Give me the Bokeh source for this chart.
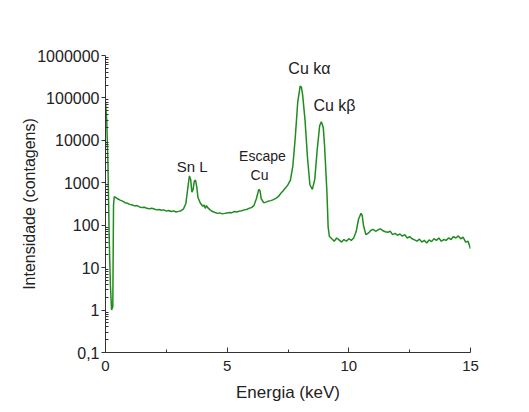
from bokeh.plotting import figure
from bokeh.models import Range1d, FixedTicker, ColumnDataSource
from bokeh.core.properties import value
from bokeh.embed import file_html
from bokeh.resources import INLINE

# Spectrum (energy in keV, counts)
energy = [0.00, 0.05, 0.10, 0.15, 0.20, 0.25, 0.30, 0.33, 0.36, 0.40,
          0.50, 0.60, 0.70, 0.80, 0.90, 1.00, 1.10, 1.20, 1.30, 1.40,
          1.50, 1.60, 1.70, 1.80, 1.90, 2.00, 2.10, 2.20, 2.30, 2.40,
          2.50, 2.60, 2.70, 2.80, 2.90, 3.00, 3.10, 3.20, 3.30, 3.40,
          3.45, 3.50, 3.55, 3.60, 3.65, 3.70, 3.75, 3.80, 3.90, 4.00,
          4.05, 4.10, 4.15, 4.20, 4.30, 4.40, 4.50, 4.60, 4.70, 4.80,
          4.90, 5.00, 5.10, 5.20, 5.30, 5.40, 5.50, 5.60, 5.70, 5.80,
          5.90, 6.00, 6.10, 6.20, 6.30, 6.35, 6.40, 6.50, 6.60, 6.70,
          6.80, 6.90, 7.00, 7.10, 7.20, 7.30, 7.40, 7.50, 7.60, 7.70,
          7.80, 7.90, 8.00, 8.05, 8.10, 8.20, 8.30, 8.40, 8.50, 8.60,
          8.70, 8.80, 8.87, 8.95, 9.00, 9.10, 9.15, 9.20, 9.30, 9.40,
          9.50, 9.60, 9.70, 9.80, 9.90, 10.00, 10.10, 10.20, 10.30, 10.40,
          10.50, 10.55, 10.60, 10.70, 10.80, 10.90, 11.00, 11.10, 11.20, 11.30,
          11.40, 11.50, 11.60, 11.70, 11.80, 11.90, 12.00, 12.10, 12.20, 12.30,
          12.40, 12.50, 12.60, 12.70, 12.80, 12.90, 13.00, 13.10, 13.20, 13.30,
          13.40, 13.50, 13.60, 13.70, 13.80, 13.90, 14.00, 14.10, 14.20, 14.30,
          14.40, 14.50, 14.60, 14.70, 14.80, 14.90, 15.00]
counts = [80000, 30000, 3000, 60, 4, 1.0, 1.2, 300, 470, 460,
          420, 390, 370, 340, 330, 310, 300, 285, 290, 270,
          260, 265, 250, 245, 250, 240, 230, 235, 225, 230,
          215, 222, 210, 218, 205, 212, 220, 240, 320, 900,
          1450, 1200, 600, 700, 1100, 1150, 800, 450, 330, 280,
          300, 250, 290, 260, 230, 210, 200, 190, 195, 185,
          190, 195, 200, 198, 210, 205, 215, 220, 230, 235,
          250, 260, 290, 420, 700, 650, 420, 340, 350, 370,
          380, 400, 430, 470, 560, 650, 760, 900, 1150, 2500,
          12000, 80000, 190000, 180000, 120000, 30000, 4000, 900, 700, 1200,
          6000, 22000, 27500, 20000, 8000, 600, 90, 55, 48, 42,
          50, 45, 40, 46, 42, 48, 44, 50, 70, 140,
          190, 170, 100, 60, 65, 75, 80, 72, 78, 82,
          74, 70, 68, 72, 60, 64, 58, 62, 55, 60,
          50, 54, 48, 45, 42, 47, 40, 44, 38, 45,
          41, 48, 44, 50, 42, 46, 44, 50, 46, 54,
          50, 56, 48, 52, 40, 42, 28]

y_ticks = [0.1, 1, 10, 100, 1000, 10000, 100000, 1000000]
y_tick_labels = ["0,1", "1", "10", "100", "1000", "10000", "100000", "1000000"]
x_ticks = [0, 5, 10, 15]
x_minor = [2.5, 7.5, 12.5]

ann_text = ["Cu k\u03b1", "Cu k\u03b2", "Sn L", "Escape", "Cu"]
ann_x = [8.38, 9.41, 3.56, 6.45, 6.33]
ann_y = [497000, 67500, 2380, 4310, 1550]
ann_size = ["16px", "16px", "15px", "14px", "14px"]

FONT = "Liberation Sans"

p = figure(width=521, height=404, y_axis_type="log",
           x_range=Range1d(0, 15), y_range=Range1d(0.1, 1000000),
           output_backend="svg", toolbar_location=None,
           min_border_left=105, min_border_right=51,
           min_border_top=55, min_border_bottom=50)
p.outline_line_color = None
p.xgrid.visible = False
p.ygrid.visible = False
p.background_fill_color = "white"
p.border_fill_color = "white"

src = ColumnDataSource(dict(x=energy, y=counts))
p.line("x", "y", source=src, line_color="#1f8c1f", line_width=1.5)

ann = ColumnDataSource(dict(x=ann_x, y=ann_y, t=ann_text, s=ann_size))
p.text("x", "y", text="t", source=ann, text_font=value(FONT),
       text_font_size="s", text_align="center", text_baseline="middle",
       text_color="#222222")

# y axis
minor_y = []
for d in y_ticks[:-1]:
    for k in range(2, 10):
        minor_y.append(d * k)
p.yaxis.ticker = FixedTicker(ticks=y_ticks, minor_ticks=minor_y)
p.yaxis.major_label_overrides = {t: l for t, l in zip(y_ticks, y_tick_labels)}
p.yaxis.major_tick_out = 4
p.yaxis.major_tick_in = 0
p.yaxis.minor_tick_in = 3
p.yaxis.minor_tick_out = 0
p.yaxis.axis_label = "Intensidade (contagens)"
p.yaxis.major_label_standoff = 2
p.yaxis.axis_label_standoff = -4

# x axis
p.xaxis.ticker = FixedTicker(ticks=x_ticks, minor_ticks=x_minor)
p.xaxis.major_tick_in = 5
p.xaxis.major_tick_out = 0
p.xaxis.minor_tick_in = 3
p.xaxis.minor_tick_out = 0
p.xaxis.axis_label = "Energia (keV)"
p.xaxis.major_label_standoff = 8
p.xaxis.axis_label_standoff = 9

for ax in (p.xaxis[0], p.yaxis[0]):
    ax.axis_line_color = "#333333"
    ax.major_tick_line_color = "#333333"
    ax.minor_tick_line_color = "#333333"
    ax.major_label_text_font = FONT
    ax.major_label_text_color = "#222222"
    ax.axis_label_text_font = FONT
    ax.axis_label_text_font_style = "normal"
    ax.axis_label_text_color = "#222222"

p.xaxis.major_label_text_font_size = "15px"
p.yaxis.major_label_text_font_size = "16px"
p.xaxis.axis_label_text_font_size = "17px"
p.yaxis.axis_label_text_font_size = "16px"

open("out.html", "w").write(file_html(p, INLINE))
